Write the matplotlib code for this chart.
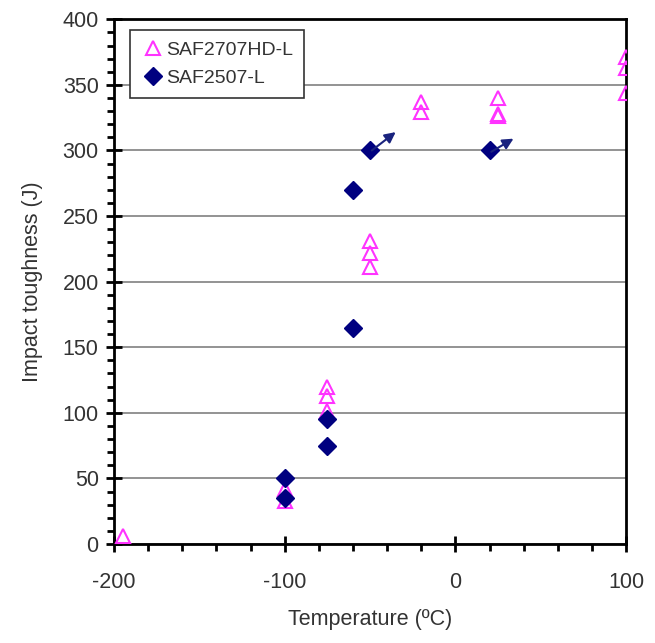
import matplotlib.pyplot as plt
from matplotlib.ticker import MultipleLocator

# SAF2707HD-L impact toughness (open triangles)
hd_temp = [-195, -100, -100, -75, -75, -75, -50, -50, -50, -20, -20, 25, 25, 25, 100, 100, 100]
hd_val = [6, 42, 33, 120, 113, 101, 231, 222, 211, 337, 329, 340, 328, 326, 371, 363, 344]

# SAF2507-L impact toughness (filled diamonds)
l_temp = [-100, -100, -75, -75, -60, -60, -50, 20]
l_val = [50, 35, 95, 75, 270, 165, 300, 300]

# arrows for samples that did not break: (start temp, start J, end temp, end J)
arrows = [(-49, 300, -35, 314), (21, 299, 34, 309)]

plt.rcParams['font.family'] = ['Liberation Sans', 'DejaVu Sans']
plt.rcParams['axes.unicode_minus'] = False

fig = plt.figure(figsize=(6.55, 6.43), dpi=100)
ax = fig.add_axes([0.174, 0.154, 0.782, 0.816])

ax.set_xlim(-200, 100)
ax.set_ylim(0, 400)
ax.xaxis.set_major_locator(MultipleLocator(100))
ax.xaxis.set_minor_locator(MultipleLocator(20))
ax.yaxis.set_major_locator(MultipleLocator(50))
ax.yaxis.set_minor_locator(MultipleLocator(10))
ax.grid(axis='y', which='major', color='#808080', lw=1.2)
ax.set_axisbelow(True)

for s in ax.spines.values():
    s.set_linewidth(2)
    s.set_color('black')

ax.tick_params(which='major', direction='inout', length=12, width=2, labelsize=15.5,
               labelcolor='#333333')
ax.tick_params(axis='x', which='major', pad=14)
ax.tick_params(axis='y', which='major', pad=5)
ax.tick_params(which='minor', direction='out', length=5, width=2)

ax.plot(hd_temp, hd_val, ls='none', marker='^', ms=10, mfc='none', mec='#ff33ff',
        mew=1.5, label='SAF2707HD-L', zorder=3)
ax.plot(l_temp, l_val, ls='none', marker='D', ms=9, color='#000080',
        label='SAF2507-L', zorder=4)

for x0, y0, x1, y1 in arrows:
    ax.annotate('', xy=(x1, y1), xytext=(x0, y0),
                arrowprops=dict(arrowstyle='-|>', color='#1a237e', lw=1.5,
                                mutation_scale=16, shrinkA=0, shrinkB=0), zorder=5)

leg = ax.legend(loc='upper left', bbox_to_anchor=(0.031, 0.979), borderaxespad=0,
                fontsize=14, handletextpad=0.0, handlelength=1.3, borderpad=0.55,
                labelspacing=0.55, fancybox=False, framealpha=1)
leg.get_frame().set_edgecolor('#333333')
leg.get_frame().set_linewidth(1.2)
for t in leg.get_texts():
    t.set_color('#333333')

ax.set_xlabel('Temperature (ºC)', fontsize=15.5, color='#333333', labelpad=12)
ax.set_ylabel('Impact toughness (J)', fontsize=15.5, color='#333333', labelpad=14)

fig.savefig('out.png', dpi=100)
